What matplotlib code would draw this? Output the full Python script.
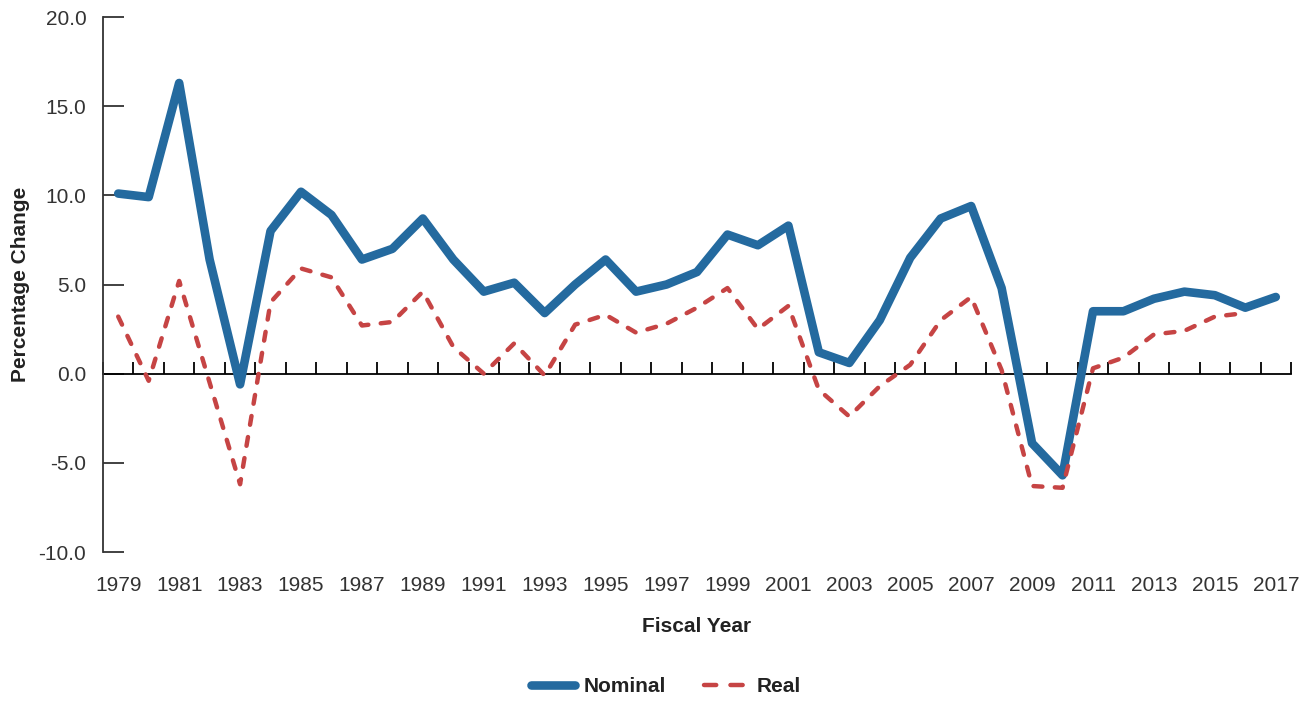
import matplotlib
matplotlib.use("Agg")
import matplotlib.pyplot as plt
from matplotlib.lines import Line2D
import numpy as np

years = list(range(1979, 2018))
nominal = [10.1, 9.9, 16.3, 6.4, -0.6, 8.0, 10.2, 8.9, 6.4, 7.0, 8.7, 6.4, 4.6, 5.1,
           3.4, 5.0, 6.4, 4.6, 5.0, 5.7, 7.8, 7.2, 8.3, 1.2, 0.6, 3.0, 6.5, 8.7, 9.4,
           4.8, -3.9, -5.7, 3.5, 3.5, 4.2, 4.6, 4.4, 3.7, 4.3]
real_years = list(range(1979, 2017))
real = [3.2, -0.4, 5.2, -0.5, -6.2, 4.0, 5.9, 5.4, 2.7, 2.9, 4.6, 1.5, 0.0, 1.7,
        -0.1, 2.75, 3.3, 2.3, 2.8, 3.7, 4.8, 2.5, 3.8, -0.9, -2.4, -0.7, 0.5, 3.0,
        4.3, 0.2, -6.3, -6.4, 0.3, 0.9, 2.2, 2.4, 3.2, 3.4]
yticks = [-10, -5, 0, 5, 10, 15, 20]
xlabels = list(range(1979, 2018, 2))

plt.rcParams['font.family'] = ['Liberation Sans Narrow', 'Liberation Sans', 'DejaVu Sans']

fig = plt.figure(figsize=(13.13, 7.03), dpi=100)
ax = fig.add_axes([103/1313, 1 - 552/703, (1291 - 103)/1313, (552 - 17)/703])

blue = '#246a9f'
red = '#c64444'
ax.plot(years, nominal, color=blue, lw=6.2, solid_capstyle='round', solid_joinstyle='round',
        label='Nominal', zorder=3)
ax.plot(real_years, real, color=red, lw=3.2, dashes=(2.0, 2.8), dash_capstyle='round',
        dash_joinstyle='round', label='Real', zorder=4)

ax.set_xlim(1978.5, 2017.5)
ax.set_ylim(-10, 20)

for s in ['top', 'right']:
    ax.spines[s].set_visible(False)
ax.spines['left'].set_color('#333333')
ax.spines['left'].set_linewidth(1.3)
ax.spines['bottom'].set_position(('data', 0))
ax.spines['bottom'].set_color('black')
ax.spines['bottom'].set_linewidth(1.3)
ax.spines['bottom'].set_zorder(2)

ax.set_yticks(yticks)
ax.set_yticklabels([f"{v:.1f}" for v in yticks])
ax.tick_params(axis='y', direction='in', length=15, width=1.3, color='#333333',
               labelsize=15, labelcolor='#333333', pad=12)

ax.set_xticks(np.arange(1978.5, 2018, 1.0))
ax.set_xticklabels([])
ax.tick_params(axis='x', direction='in', length=9, width=1.3, color='black')

ax2 = ax.twiny()
ax2.set_xlim(ax.get_xlim())
ax2.xaxis.set_ticks_position('bottom')
ax2.xaxis.set_label_position('bottom')
for s in ax2.spines.values():
    s.set_visible(False)
ax2.set_xticks(xlabels)
ax2.set_xticklabels([str(y) for y in xlabels])
ax2.tick_params(axis='x', length=0, labelsize=15, labelcolor='#333333', pad=17)
ax2.set_xlabel('Fiscal Year', fontsize=15, fontweight='bold', color='#222222', labelpad=16)

ax.set_ylabel('Percentage Change', fontsize=15, fontweight='bold', color='#222222', labelpad=6)

h_nom = Line2D([], [], color=blue, lw=6.2, solid_capstyle='round')
h_real = Line2D([], [], color=red, lw=3.2, dashes=(2.75, 3.2), dash_capstyle='round')
leg = fig.legend(handles=[h_nom, h_real], labels=['Nominal', 'Real'], loc='center',
                 bbox_to_anchor=(666/1313, 1 - 687/703),
                 ncol=2, frameon=False, fontsize=15, handlelength=2.1, columnspacing=1.8,
                 handletextpad=0.45)
for t in leg.get_texts():
    t.set_fontweight('bold')
    t.set_color('#222222')

fig.savefig('out.png', dpi=100)
